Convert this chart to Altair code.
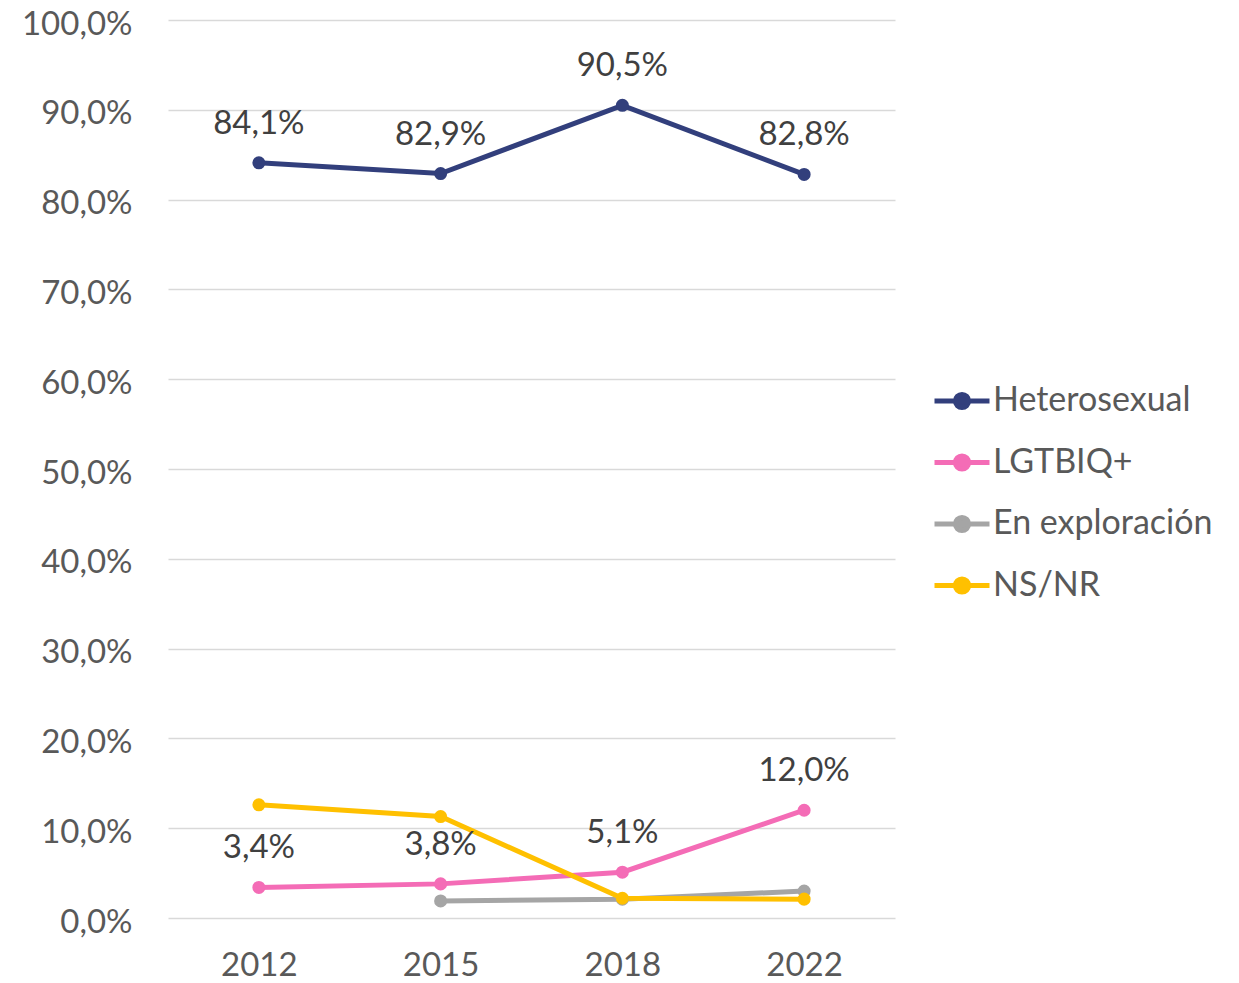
import altair as alt
import pandas as pd

years = ["2012", "2015", "2018", "2022"]
series = ["Heterosexual", "LGTBIQ+", "En exploración", "NS/NR"]
hetero = [84.1, 82.9, 90.5, 82.8]
lgtbiq = [3.4, 3.8, 5.1, 12.0]
explor = [None, 1.9, 2.1, 3.0]
nsnr = [12.6, 11.3, 2.2, 2.1]
colors = ["#323F7C", "#F46CB6", "#A5A5A5", "#FFC000"]
labeled = ["Heterosexual", "LGTBIQ+"]

rows = []
for name, vals in zip(series, [hetero, lgtbiq, explor, nsnr]):
    for yr, v in zip(years, vals):
        if v is None:
            continue
        rows.append({
            "year": yr,
            "series": name,
            "value": v,
            "label": f"{v:.1f}%".replace(".", ","),
            "show": name in labeled,
        })
df = pd.DataFrame(rows)

FONT = "Lato"
FS = 33
r = 0.24
sym_path = (f"M-1,0L1,0M{r},0A{r},{r},0,1,1,-{r},0A{r},{r},0,1,1,{r},0Z")

base = alt.Chart(df).encode(
    x=alt.X("year:N", sort=years, title=None,
            scale=alt.Scale(type="point", padding=0.5),
            axis=alt.Axis(labelAngle=0, domain=False, ticks=False, tickSize=0,
                          labelPadding=31, labelFont=FONT, labelFontSize=FS,
                          labelColor="#595959", grid=False)),
    y=alt.Y("value:Q", title=None, scale=alt.Scale(domain=[0, 100], nice=False),
            axis=alt.Axis(values=list(range(0, 101, 10)), domain=False, ticks=False,
                          tickSize=0, labelPadding=36, labelOffset=4,
                          labelFont=FONT, labelFontSize=FS,
                          labelColor="#595959", gridColor="#D9D9D9", gridWidth=1.5,
                          labelExpr="replace(format(datum.value, '.1f'), '.', ',') + '%'")),
    color=alt.Color("series:N", sort=series,
                    scale=alt.Scale(domain=series, range=colors),
                    legend=alt.Legend(title=None, orient="none", legendX=764, legendY=351,
                                      labelFont=FONT, labelFontSize=34, labelColor="#595959",
                                      labelLimit=0,
                                      symbolType=sym_path, symbolSize=3025,
                                      symbolStrokeWidth=5, rowPadding=14.5, labelOffset=1)),
)

lines = base.mark_line(strokeWidth=5, point=alt.OverlayMarkDef(filled=True, size=170))

labels = base.mark_text(dy=-39, fontSize=FS, font=FONT, color="#404040").encode(
    text="label:N", color=alt.value("#404040")
).transform_filter("datum.show")

chart = alt.layer(lines, labels).properties(
    width=727, height=898,
    background="white",
    autosize=alt.AutoSizeParams(type="none"),
    padding={"left": 160, "top": 12, "right": 322, "bottom": 64},
).configure_view(strokeWidth=0, stroke="transparent")

chart.save("out.html", embed_options={"renderer": "svg", "actions": False})
